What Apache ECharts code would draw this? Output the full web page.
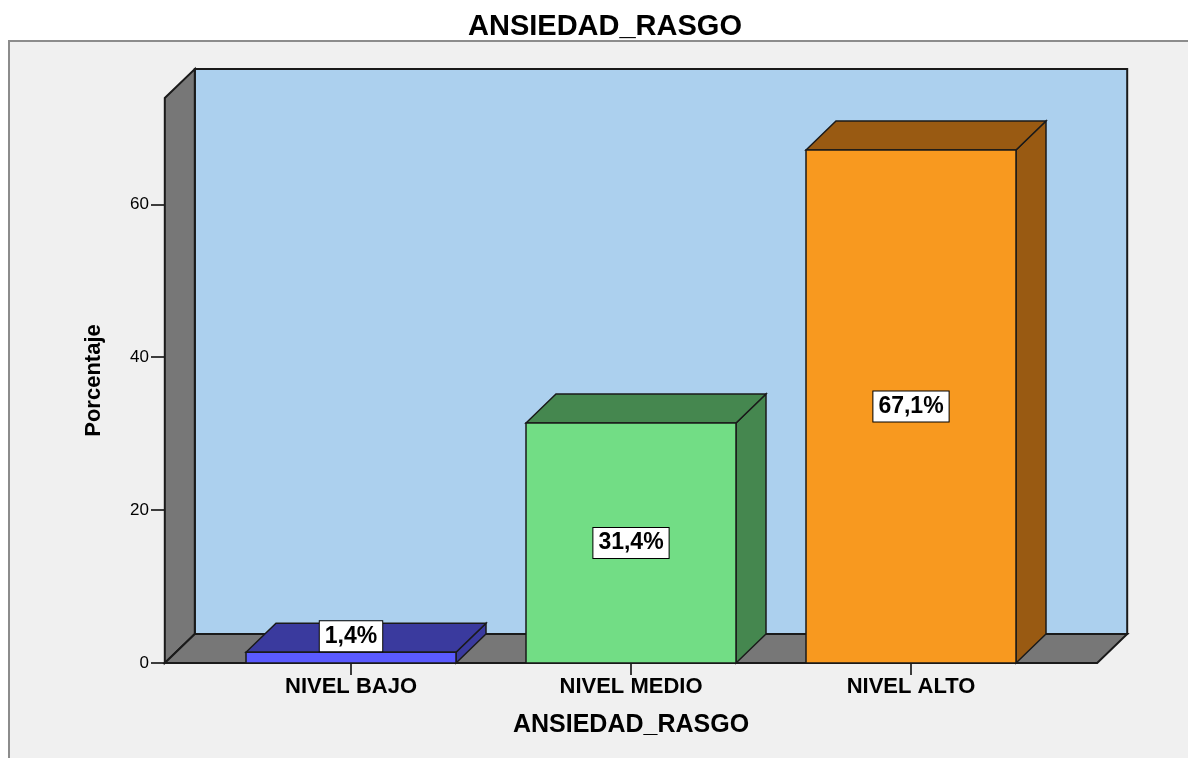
<!DOCTYPE html>
<html>
<head>
<meta charset="utf-8">
<script src="https://cdn.jsdelivr.net/npm/echarts@6.0.0/dist/echarts.min.js"></script>
<style>
  html, body { margin: 0; padding: 0; background: #fff; }
  #main { width: 1188px; height: 758px; }
</style>
</head>
<body>
<div id="main"></div>
<script>
// datos
var categories = ['NIVEL BAJO', 'NIVEL MEDIO', 'NIVEL ALTO'];
var percentages = [1.4, 31.4, 67.1];
var yTicks = [0, 20, 40, 60];
var yMax = 73.9;

// estilos
var faceColors = ['#5a5aff', '#72dd85', '#f8991f'];
var shadeColors = ['#3a3a9e', '#45874f', '#995a12'];
var DX = 30, DY = 29; // profundidad 3D
var EDGE = '#1a1a1a';
var FONT = '"Liberation Sans", Arial, sans-serif';

function fmt(v) { return v.toFixed(1).replace('.', ',') + '%'; }

var chart = echarts.init(document.getElementById('main'));

chart.setOption({
  backgroundColor: '#ffffff',
  animation: false,
  title: {
    text: 'ANSIEDAD_RASGO',
    left: 600,
    textAlign: 'center',
    top: 7,
    textStyle: { fontFamily: FONT, fontSize: 29, fontWeight: 'bold', color: '#000' }
  },
  graphic: [{
    type: 'rect', z: -100,
    shape: { x: 9, y: 41, width: 1200, height: 740 },
    style: { fill: '#f0f0f0', stroke: '#8c8c8c', lineWidth: 2 }
  }],
  grid: { left: 211, right: 137, top: 98, bottom: 95 },
  xAxis: {
    type: 'category',
    data: categories,
    name: 'ANSIEDAD_RASGO',
    nameLocation: 'middle',
    nameGap: 50,
    nameTextStyle: { fontFamily: FONT, fontSize: 25, fontWeight: 'bold', color: '#000' },
    axisLine: { show: false },
    axisTick: { show: true, alignWithLabel: true, length: 12, lineStyle: { color: '#000', width: 1.5 } },
    axisLabel: { fontFamily: FONT, fontSize: 22, fontWeight: 'bold', color: '#000', margin: 13 },
    splitLine: { show: false }
  },
  yAxis: {
    type: 'value',
    min: 0,
    max: yMax,
    offset: 46,
    name: 'Porcentaje',
    nameLocation: 'middle',
    nameGap: 60,
    nameTextStyle: { fontFamily: FONT, fontSize: 22, fontWeight: 'bold', color: '#000' },
    axisLine: { show: false },
    axisTick: { show: true, length: 14, customValues: yTicks, lineStyle: { color: '#000', width: 1.5 } },
    axisLabel: { customValues: yTicks, fontFamily: FONT, fontSize: 17, color: '#000', margin: 16 },
    splitLine: { show: false }
  },
  series: [
    {
      // paredes y suelo
      type: 'custom',
      z: 1,
      silent: true,
      data: [[0, 0]],
      renderItem: function (params, api) {
        var band = api.size([1, 0])[0];
        var L = api.coord([0, 0])[0] - band / 2 - band * 0.165;
        var R = api.coord([categories.length - 1, 0])[0] + band / 2 + band * 0.165;
        var B = api.coord([0, 0])[1];
        var T = api.coord([0, yMax])[1];
        var st = { stroke: EDGE, lineWidth: 2 };
        return {
          type: 'group',
          children: [
            { type: 'rect', shape: { x: L + DX, y: T - DY, width: R - L, height: B - T },
              style: Object.assign({ fill: '#acd0ee' }, st) },
            { type: 'polygon', shape: { points: [[L, B], [L, T], [L + DX, T - DY], [L + DX, B - DY]] },
              style: Object.assign({ fill: '#777777' }, st) },
            { type: 'polygon', shape: { points: [[L, B], [L + DX, B - DY], [R + DX, B - DY], [R, B]] },
              style: Object.assign({ fill: '#777777' }, st) }
          ]
        };
      }
    },
    {
      type: 'custom',
      z: 2,
      data: percentages.map(function (v, i) { return [i, v]; }),
      encode: { x: 0, y: 1 },
      renderItem: function (params, api) {
        var i = api.value(0);
        var v = api.value(1);
        var top = api.coord([i, v]);
        var base = api.coord([i, 0]);
        var w = api.size([1, 0])[0] * 0.75;
        var xl = top[0] - w / 2, xr = top[0] + w / 2;
        var yt = top[1], yb = base[1];
        var st = { stroke: EDGE, lineWidth: 1.5 };
        var h = yb - yt;
        var ly = h >= 34 ? (yt + yb) / 2 : yt - 16;
        return {
          type: 'group',
          children: [
            { type: 'polygon', shape: { points: [[xr, yt], [xr + DX, yt - DY], [xr + DX, yb - DY], [xr, yb]] },
              style: Object.assign({ fill: shadeColors[i] }, st) },
            { type: 'polygon', shape: { points: [[xl, yt], [xl + DX, yt - DY], [xr + DX, yt - DY], [xr, yt]] },
              style: Object.assign({ fill: shadeColors[i] }, st) },
            { type: 'rect', shape: { x: xl, y: yt, width: w, height: h },
              style: Object.assign({ fill: faceColors[i] }, st) },
            { type: 'text', x: top[0], y: ly, z2: 10,
              style: {
                text: fmt(v), fill: '#000', font: 'bold 23px ' + FONT,
                align: 'center', verticalAlign: 'middle',
                backgroundColor: '#ffffff', borderColor: '#000', borderWidth: 1,
                padding: [4, 5, 3, 5]
              } }
          ]
        };
      }
    }
  ]
});
</script>
</body>
</html>
